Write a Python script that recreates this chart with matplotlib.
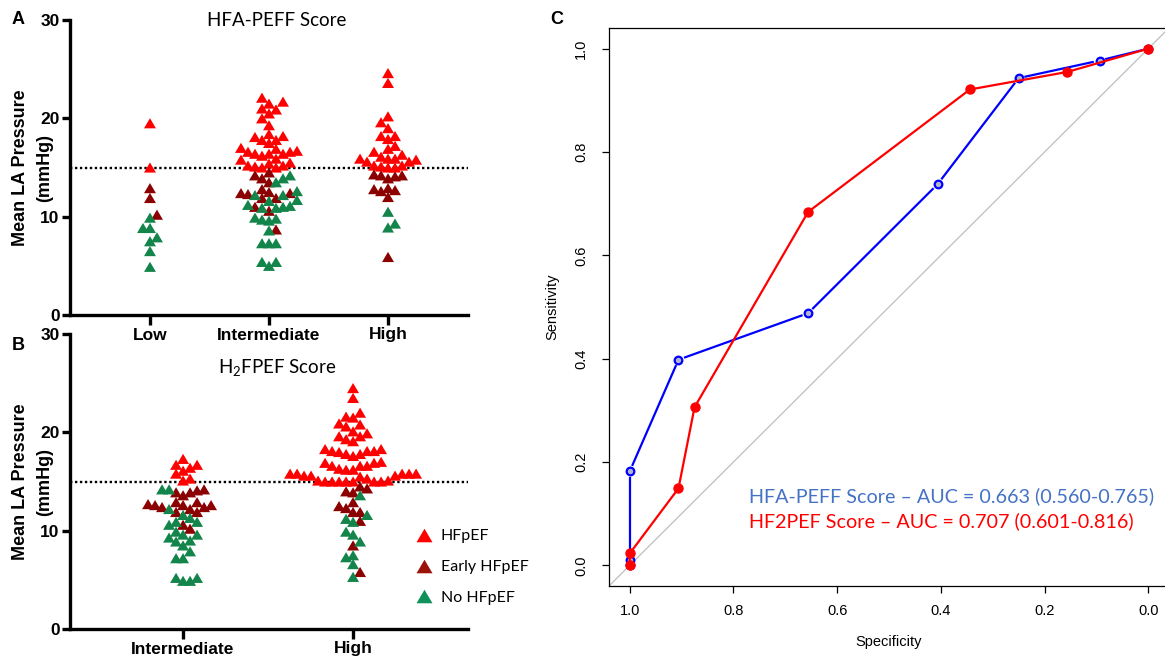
import numpy as np
import matplotlib.pyplot as plt
from matplotlib.lines import Line2D

plt.rcParams['font.family'] = ['Liberation Sans', 'DejaVu Sans']

# mean LA pressure (mmHg) per score class, split by diagnosis
hfa_low_hfpef = [19.5, 15.0]
hfa_low_early = [12.9, 11.9, 10.2]
hfa_low_no = [9.9, 8.85, 8.85, 7.9, 7.5, 6.5, 4.9]

hfa_int_hfpef = [22.1, 21.7, 21.5, 21.0, 20.9, 20.5, 20.0, 19.3, 18.4, 18.2, 18.1,
                 17.8, 17.8, 17.5, 17.0, 16.9, 16.7, 16.6, 16.6, 16.4, 16.4, 16.4,
                 16.2, 15.9, 15.8, 15.5, 15.4, 15.2, 15.2, 15.1, 15.0, 15.0]
hfa_int_early = [14.5, 14.2, 13.9, 13.5, 12.8, 12.5, 12.4, 12.4, 12.3, 11.9, 11.9,
                 11.0, 10.6, 8.7]
hfa_int_no = [14.2, 13.9, 13.5, 12.6, 12.2, 12.2, 11.7, 11.6, 11.2, 11.1, 11.0, 10.9,
              10.9, 9.9, 9.8, 9.7, 9.6, 8.6, 7.3, 7.3, 7.3, 5.4, 5.4, 5.0]

hfa_high_hfpef = [24.6, 23.6, 20.2, 19.6, 19.0, 18.2, 18.2, 17.9, 17.2, 16.9, 16.6,
                  16.3, 16.1, 15.9, 15.9, 15.9, 15.8, 15.6, 15.6, 15.2, 15.2, 15.1,
                  15.0, 15.0]
hfa_high_early = [14.3, 14.2, 14.2, 14.1, 13.9, 12.9, 12.8, 12.7, 12.6, 12.0, 5.9]
hfa_high_no = [10.5, 9.3, 8.9]

h2f_int_hfpef = [17.3, 16.7, 16.7, 16.4, 16.1, 15.8, 15.3, 15.1]
h2f_int_early = [14.2, 14.1, 13.9, 13.9, 13.6, 12.9, 12.9, 12.7, 12.6, 12.6, 12.6,
                 12.4, 12.4, 12.2, 11.9, 11.9, 10.6, 10.2]
h2f_int_no = [14.2, 14.2, 12.2, 11.6, 11.3, 10.9, 10.9, 10.6, 9.9, 9.6, 9.6, 9.3,
              9.0, 8.9, 8.5, 7.9, 7.2, 7.2, 5.2, 5.2, 4.9, 4.9]

h2f_high_hfpef = [24.5, 23.5, 22.0, 21.6, 21.5, 20.9, 20.8, 20.6, 20.1, 19.9, 19.6,
                  19.6, 19.3, 19.1, 18.3, 18.3, 18.1, 18.1, 18.1, 18.0, 17.8, 17.8,
                  17.6, 17.0, 16.9, 16.9, 16.6, 16.6, 16.6, 16.3, 16.2, 16.2, 15.8,
                  15.8, 15.8, 15.8, 15.8, 15.6, 15.6, 15.6, 15.5, 15.3, 15.1, 15.1,
                  15.0, 15.0, 15.0, 15.0, 15.0, 15.0, 15.0]
h2f_high_early = [14.5, 14.3, 14.0, 13.9, 12.9, 12.5, 12.3, 11.9, 11.9, 11.0, 8.5, 5.8]
h2f_high_no = [13.6, 11.6, 11.2, 10.9, 9.9, 9.6, 8.9, 7.5, 7.3, 6.6, 5.3]

hfa_cats = ['Low', 'Intermediate', 'High']
h2f_cats = ['Intermediate', 'High']
legend_labels = ['HFpEF', 'Early HFpEF', 'No HFpEF']

# ROC curves (specificity, sensitivity)
hfa_spec = [1.0, 1.0, 1.0, 0.906, 0.656, 0.406, 0.25, 0.094, 0.0]
hfa_sens = [0.0, 0.011, 0.182, 0.398, 0.488, 0.738, 0.943, 0.977, 1.0]
h2f_spec = [1.0, 1.0, 0.906, 0.875, 0.656, 0.344, 0.156, 0.0]
h2f_sens = [0.0, 0.023, 0.149, 0.306, 0.684, 0.921, 0.955, 1.0]
auc_hfa = 'HFA-PEFF Score – AUC = 0.663 (0.560-0.765)'
auc_h2f = 'HF2PEF Score – AUC = 0.707 (0.601-0.816)'

W, H = 1165, 661
fig = plt.figure(figsize=(W / 100, H / 100), dpi=100)

def px_box(left, top, right, bottom):
    return [left / W, 1 - bottom / H, (right - left) / W, (bottom - top) / H]

TRI = [(-1, -0.85), (1, -0.85), (0, 0.85)]
C_HF, C_EARLY, C_NO = '#ff0000', '#8b0000', '#13854a'
CAL = ['Lato', 'DejaVu Sans']


def swarm(ys, ppx, ppy, step=7.0, h=8.6):
    # greedy column layout in pixel space, returns x offsets in data units
    ys = np.asarray(ys)
    placed = []
    offs = np.zeros(len(ys))
    for i in np.argsort(ys):
        yp = ys[i] * ppy
        k = 0
        pos = None
        while pos is None:
            if k == 0:
                cands = [0.0]
            else:
                right = sum(1 for p in placed if p[0] > 0)
                left = sum(1 for p in placed if p[0] < 0)
                cands = [k * step, -k * step] if right <= left else [-k * step, k * step]
            for c in cands:
                if all(abs(c - px) > step * 0.99 or abs(yp - py) >= h for px, py in placed):
                    pos = c
                    break
            k += 1
        placed.append((pos, yp))
        offs[i] = pos / ppx
    return offs


def score_panel(rect, xlim, cats, groups):
    ax = fig.add_axes(px_box(*rect))
    ax.patch.set_visible(False)
    ax.set_xlim(*xlim)
    ax.set_ylim(0, 30)
    ppx = (rect[2] - rect[0]) / (xlim[1] - xlim[0])
    ppy = (rect[3] - rect[1]) / 30
    ax.axhline(15, color='black', lw=1.7, ls=(0, (1.0, 1.1)), zorder=1)
    for i, (hf, early, no) in enumerate(groups):
        ys = np.array(hf + early + no)
        cols = [C_HF] * len(hf) + [C_EARLY] * len(early) + [C_NO] * len(no)
        xs = i + swarm(ys, ppx, ppy)
        ax.scatter(xs, ys, c=cols, marker=TRI, s=74, linewidths=0, zorder=3)
    ax.set_xticks(range(len(cats)))
    ax.set_xticklabels(cats)
    ax.set_yticks([0, 10, 20, 30])
    for s in ['top', 'right']:
        ax.spines[s].set_visible(False)
    for s in ['left', 'bottom']:
        ax.spines[s].set_linewidth(2.4)
    ax.tick_params(axis='y', length=6, width=2.4, pad=1.5, labelsize=12.5)
    ax.tick_params(axis='x', length=7.5, width=2.4, pad=1.5, labelsize=12.5)
    for lab in ax.get_xticklabels() + ax.get_yticklabels():
        lab.set_fontweight('bold')
    return ax


axa = score_panel((70, 20, 468, 315), (-0.672, 2.672), hfa_cats,
                  [(hfa_low_hfpef, hfa_low_early, hfa_low_no),
                   (hfa_int_hfpef, hfa_int_early, hfa_int_no),
                   (hfa_high_hfpef, hfa_high_early, hfa_high_no)])
axb = score_panel((70, 334, 468, 629), (-0.665, 1.676), h2f_cats,
                  [(h2f_int_hfpef, h2f_int_early, h2f_int_no),
                   (h2f_high_hfpef, h2f_high_early, h2f_high_no)])

for yc in (167.5, 481.5):
    fig.text(21 / W, 1 - yc / H, 'Mean LA Pressure', rotation=90,
             ha='center', va='center', fontsize=13, fontweight='bold')
    fig.text(45 / W, 1 - yc / H, '(mmHg)', rotation=90,
             ha='center', va='center', fontsize=13, fontweight='bold')

fig.text(277 / W, 1 - 21 / H, 'HFA-PEFF Score', ha='center', va='center',
         fontsize=13.5, family=CAL)
fig.text(277 / W, 1 - 368 / H, r'$\mathregular{H_2}$FPEF Score', ha='center', va='center',
         fontsize=13.5, family=CAL)
fig.text(18 / W, 1 - 20 / H, 'A', ha='center', va='center', fontsize=13, fontweight='bold')
fig.text(18 / W, 1 - 346 / H, 'B', ha='center', va='center', fontsize=13, fontweight='bold')
fig.text(557 / W, 1 - 20 / H, 'C', ha='center', va='center', fontsize=13, fontweight='bold')

handles = [Line2D([], [], ls='none', marker=TRI, ms=11.5, mew=0, color=c)
           for c in (C_HF, '#9a1208', '#10915a')]
fig.legend(handles, legend_labels, loc='upper left', bbox_to_anchor=(416 / W, 1 - 529 / H),
           frameon=False, prop={'family': CAL, 'size': 11.5}, labelspacing=1.05,
           handlelength=1.0, handletextpad=0.55, borderpad=0, borderaxespad=0)

# ROC panel
axc = fig.add_axes(px_box(609, 28, 1169, 586))
axc.set_xlim(1.04, -0.04)
axc.set_ylim(-0.04, 1.04)
axc.plot([1.04, -0.04], [-0.04, 1.04], color='#bebebe', lw=0.9, zorder=1)

ticks = np.round(np.arange(0, 1.01, 0.2), 1)
axc.set_xticks(ticks)
axc.set_xticklabels(['%.1f' % t for t in ticks])
axc.set_yticks(ticks)
axc.set_yticklabels(['%.1f' % t for t in ticks], rotation=90, va='center')
axc.tick_params(length=5, width=0.9, labelsize=10.5)
axc.tick_params(axis='x', pad=8)
axc.tick_params(axis='y', pad=10)
for s in axc.spines.values():
    s.set_linewidth(0.9)
axc.set_xlabel('Specificity', fontsize=10.5, labelpad=12)
axc.set_ylabel('Sensitivity', fontsize=10.5, labelpad=11)

# blue curve: line broken around each open point
pts = axc.transData.transform(np.column_stack([hfa_spec, hfa_sens]))
inv = axc.transData.inverted()
gap = 7
for p, q in zip(pts[:-1], pts[1:]):
    d = q - p
    L = np.hypot(*d)
    if L <= 2 * gap:
        continue
    u = d / L
    seg = inv.transform(np.array([p + u * gap, q - u * gap]))
    axc.plot(seg[:, 0], seg[:, 1], color='#0000ff', lw=1.6, zorder=2)
axc.plot(hfa_spec, hfa_sens, ls='none', marker='o', ms=5.5, mew=1.6,
         mec='#0000ff', mfc='#b4b4cc', zorder=3)

axc.plot(h2f_spec, h2f_sens, color='#ff0000', lw=1.6, marker='o', ms=6.5,
         mfc='#ff0000', mec='#ff0000', zorder=4)

fig.text(749 / W, 1 - 496 / H, auc_hfa, color='#4472c4', fontsize=14.2,
         family=CAL, va='center')
fig.text(749 / W, 1 - 521 / H, auc_h2f, color='#ff0000', fontsize=14.2,
         family=CAL, va='center')

fig.savefig('out.png', dpi=100)
